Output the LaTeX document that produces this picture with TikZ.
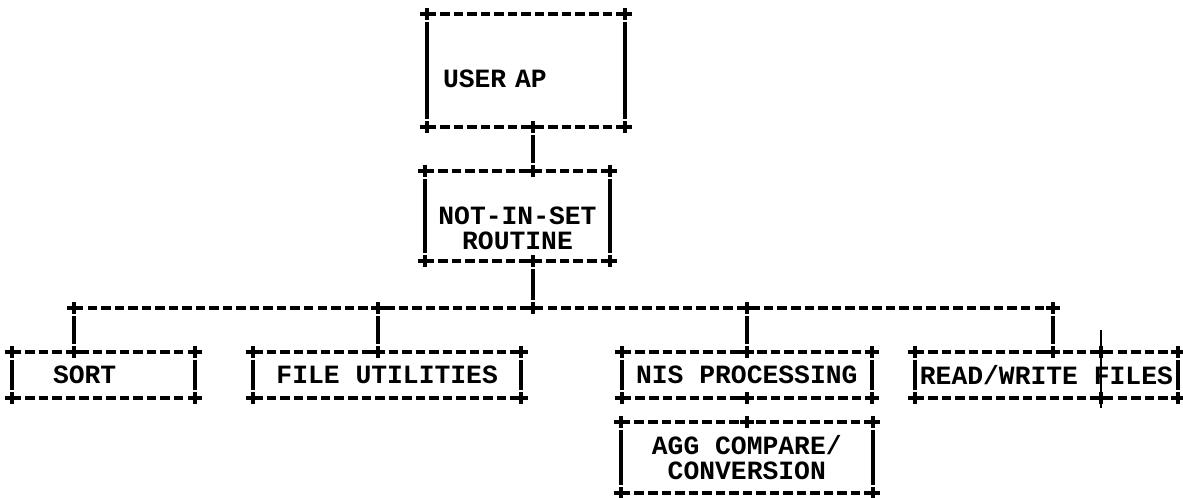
\documentclass[tikz,border=0pt]{standalone}
\usepackage{fontspec}
\setmonofont{Liberation Mono}
\usetikzlibrary{positioning}

\begin{document}
\begin{tikzpicture}[x=0.02cm, y=-0.02cm,
  tbox/.style={inner sep=0pt, minimum height=0.92cm, align=center, font=\ttfamily\bfseries\fontsize{15}{14}\selectfont},
  hline/.style={line width=2.4pt, dash pattern=on 5.4pt off 2.3pt},
  vline/.style={line width=2.4pt, shorten <=4.5pt, shorten >=4.5pt},
  tickline/.style={line width=0.6pt},
  crs/.pic={\draw[line width=2.4pt] (-7,0) -- (7,0) (0,-6) -- (0,6);}]
\useasboundingbox (0,0) rectangle (1183,497);
\node[tbox, minimum width=3.96cm, minimum height=2.26cm, text width=3.32cm, align=left, text height=18.8pt, text depth=0pt] (user) at (526,70.5) {USER AP};
\node[tbox, minimum width=3.70cm, minimum height=1.80cm, text height=37.9pt, text depth=0pt] (routine) at (517.5,216) {NOT-IN-SET\\ROUTINE};
\node[tbox, minimum width=3.66cm, text width=2.02cm, align=left] (sort) at (103.5,375) {SORT};
\node[tbox, minimum width=5.34cm, right=1.16cm of sort] (futil) {FILE UTILITIES};
\node[tbox, minimum width=4.98cm, right=2.02cm of futil] (nisp) {NIS PROCESSING};
\node[tbox, minimum width=5.02cm, minimum height=1.40cm, below=0.48cm of nisp] (agg) {AGG COMPARE/\\CONVERSION};
\node[tbox, minimum width=5.26cm, right=0.86cm of nisp] (rw) {READ/WRITE FILES};

% typewriter boxes
\foreach \n in {user,routine,sort,futil,nisp,agg,rw} {
  \draw[hline] (\n.north west) -- (\n.north east) (\n.south west) -- (\n.south east);
  \draw[vline] (\n.north west) -- (\n.south west);
  \draw[vline] (\n.north east) -- (\n.south east);
  \foreach \a in {north west,north east,south west,south east} \pic at (\n.\a) {crs};
}

\coordinate (stem) at (533,0);
\coordinate (b1) at (74,308); \coordinate (b2) at (378,308); \coordinate (b3) at (747,308); \coordinate (b4) at (1053,308);
\draw[vline] (user.south -| stem) -- (routine.north -| stem);
\draw[vline] (routine.south -| stem) -- (b1 -| stem);
\draw[hline] (b1) -- (b4);
\foreach \b/\n in {b1/sort,b2/futil,b3/nisp,b4/rw} {
  \draw[vline] (\b) -- (\b |- \n.north);
  \pic at (\b) {crs}; \pic at (\b |- \n.north) {crs};
}
\foreach \p in {user.south,routine.north,routine.south,b1} \pic at (\p -| stem) {crs};
\pic at (b3 |- nisp.south) {crs}; \pic at (b3 |- agg.north) {crs};

\coordinate (tick) at (1101,330);
\draw[tickline] (tick) -- ([yshift=-0.2cm]tick |- rw.south);
\pic at (tick |- rw.north) {crs}; \pic at (tick |- rw.south) {crs};
\end{tikzpicture}
\end{document}
